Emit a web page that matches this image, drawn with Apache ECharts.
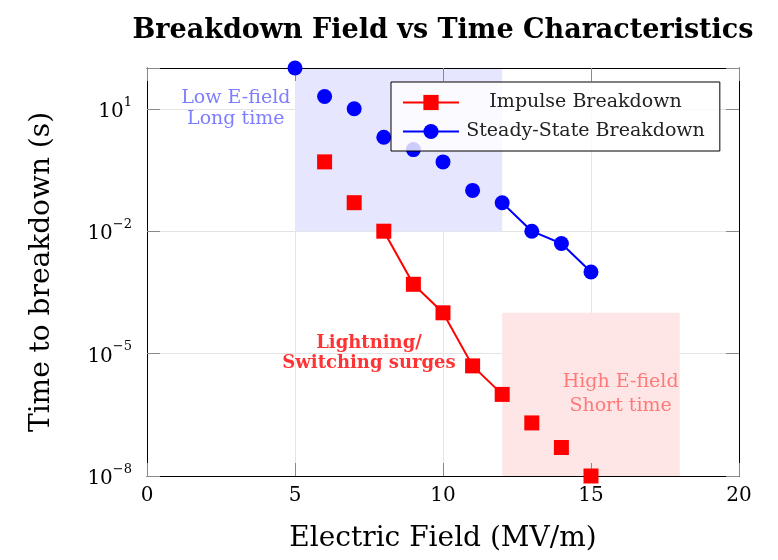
<!DOCTYPE html>
<html><head><meta charset="utf-8">
<script src="https://cdn.jsdelivr.net/npm/echarts@6/dist/echarts.min.js"></script>
<style>html,body{margin:0;padding:0;background:#fff}#c{width:778px;height:560px}</style>
</head><body><div id="c"></div>
<script>
// ---- data ----
const titleText = 'Breakdown Field vs Time Characteristics';
const xName = 'Electric Field (MV/m)';
const yName = 'Time to breakdown (s)';
const seriesNames = ['Impulse Breakdown', 'Steady-State Breakdown'];
const impulseX = [6, 7, 8, 9, 10, 11, 12, 13, 14, 15];
const impulseT = [0.5, 0.05, 0.01, 5e-4, 1e-4, 5e-6, 1e-6, 2e-7, 5e-8, 1e-8];
const steadyX = [5, 6, 7, 8, 9, 10, 11, 12, 13, 14, 15];
const steadyT = [100, 20, 10, 2, 1, 0.5, 0.1, 0.05, 0.01, 0.005, 0.001];
const xTicks = [0, 5, 10, 15, 20];
const yExtent = [1e-8, 100];
// shaded regions: [x1, y1, x2, y2]
const regionX1 = [5, 12];
const regionX2 = [12, 18];
const regionY1 = [0.01, 1e-8];
const regionY2 = [100, 1e-4];
// annotations
const noteX = [3, 7.5, 16];
const noteY = [10, 1e-5, 1e-6];
const noteText = ['Low E-field\nLong time', 'Lightning/\nSwitching surges', 'High E-field\nShort time'];

// ---- styles ----
const serif = 'DejaVu Serif';
const regionColors = ['#e6e6ff', '#ffe6e6'];
const noteStyles = [
  {color: '#5c5cff', fontWeight: 'normal', fontSize: 19, lineHeight: 21},
  {color: '#ff0000', fontWeight: 'bold', fontSize: 18, lineHeight: 20},
  {color: '#ff5e5e', fontWeight: 'normal', fontSize: 19, lineHeight: 24}
];

function logLabel(v) {
  const e = Math.round(Math.log10(v));
  return '{b|10}{s|' + (e < 0 ? '\u2212' : '') + Math.abs(e) + '}';
}

const chart = echarts.init(document.getElementById('c'));
const tickStyle = {show: true, inside: true, length: 13, lineStyle: {color: '#8a8a8a', width: 1}};
const overlayX = pos => ({
  type: 'value', min: xTicks[0], max: xTicks[xTicks.length - 1], interval: xTicks[1] - xTicks[0],
  position: pos, z: 10,
  axisLine: {show: true, onZero: false, lineStyle: {color: '#000', width: 1}},
  axisTick: tickStyle, axisLabel: {show: false}, splitLine: {show: false}
});
const overlayY = pos => ({
  type: 'log', logBase: 10, min: yExtent[0], max: yExtent[1], interval: 3,
  position: pos, z: 10,
  axisLine: {show: true, onZero: false, lineStyle: {color: '#000', width: 1}},
  axisTick: tickStyle, axisLabel: {show: false}, splitLine: {show: false}
});

const option = {
  animation: false,
  backgroundColor: '#fff',
  title: {
    text: titleText, left: 438, top: 12, textAlign: 'center',
    textStyle: {fontFamily: serif, fontWeight: 'bold', fontSize: 27, color: '#000'}
  },
  grid: {left: 147, right: 39, top: 68, bottom: 84},
  legend: {
    data: seriesNames,
    orient: 'vertical', left: 391, top: 82,
    padding: [11, 15, 10, 11], itemGap: 10,
    itemWidth: 56, itemHeight: 19,
    backgroundColor: 'rgba(255,255,255,0.8)',
    borderColor: '#000', borderWidth: 1, borderRadius: 0,
    z: 20,
    formatter: n => '{c|' + n + '}',
    textStyle: {
      fontFamily: serif, fontSize: 19, color: '#222',
      rich: {c: {width: 243, align: 'center', fontFamily: serif, fontSize: 19, color: '#222'}}
    }
  },
  xAxis: [
    {
      type: 'value', min: xTicks[0], max: xTicks[xTicks.length - 1], interval: xTicks[1] - xTicks[0],
      position: 'bottom', z: 0,
      name: xName, nameLocation: 'middle', nameGap: 49,
      nameTextStyle: {fontFamily: serif, fontSize: 28, color: '#000'},
      axisLine: {show: false}, axisTick: {show: false},
      axisLabel: {fontFamily: serif, fontSize: 20, color: '#000', margin: 10},
      splitLine: {show: true, lineStyle: {color: '#e4e4e4', width: 1}}
    },
    overlayX('bottom'),
    overlayX('top')
  ],
  yAxis: [
    {
      type: 'log', logBase: 10, min: yExtent[0], max: yExtent[1], interval: 3,
      position: 'left', z: 0,
      name: yName, nameLocation: 'middle', nameGap: 91, nameRotate: 90,
      nameTextStyle: {fontFamily: serif, fontSize: 28, color: '#000'},
      axisLine: {show: false}, axisTick: {show: false},
      axisLabel: {
        showMaxLabel: false, margin: 15,
        formatter: logLabel,
        rich: {
          b: {fontFamily: serif, fontSize: 20, color: '#000', lineHeight: 26, verticalAlign: 'bottom'},
          s: {fontFamily: serif, fontSize: 13, color: '#000', lineHeight: 20, verticalAlign: 'top'}
        }
      },
      splitLine: {show: true, lineStyle: {color: '#e4e4e4', width: 1}}
    },
    overlayY('left'),
    overlayY('right')
  ],
  series: [
    {
      name: seriesNames[0], type: 'line', z: 2, xAxisIndex: 0, yAxisIndex: 0,
      data: impulseX.map((x, i) => [x, impulseT[i]]),
      symbol: 'rect', symbolSize: 15, showSymbol: false,
      lineStyle: {color: '#ff0000', width: 2}, itemStyle: {color: '#ff0000', opacity: 1}
    },
    {
      name: seriesNames[1], type: 'line', z: 2, xAxisIndex: 0, yAxisIndex: 0,
      data: steadyX.map((x, i) => [x, steadyT[i]]),
      symbol: 'circle', symbolSize: 15, showSymbol: false,
      lineStyle: {color: '#0000ff', width: 2}, itemStyle: {color: '#0000ff', opacity: 1}
    },
    {
      name: 'regions', type: 'custom', z: 3, silent: true, xAxisIndex: 0, yAxisIndex: 0,
      encode: {x: [0, 2], y: [1, 3]},
      data: regionX1.map((x, i) => [x, regionY1[i], regionX2[i], regionY2[i]]),
      renderItem: (params, api) => {
        const p1 = api.coord([api.value(0), api.value(1)]);
        const p2 = api.coord([api.value(2), api.value(3)]);
        return {
          type: 'rect',
          shape: {x: p1[0], y: p2[1], width: p2[0] - p1[0], height: p1[1] - p2[1]},
          style: {fill: regionColors[params.dataIndex]}
        };
      }
    },
    {
      name: 'impulseMarkers', type: 'scatter', z: 11, clip: false, xAxisIndex: 0, yAxisIndex: 0,
      data: impulseX.map((x, i) => [x, impulseT[i]]),
      symbol: 'rect', symbolSize: 15, itemStyle: {color: '#ff0000', opacity: 1}
    },
    {
      name: 'steadyMarkers', type: 'scatter', z: 11, clip: false, xAxisIndex: 0, yAxisIndex: 0,
      data: steadyX.map((x, i) => [x, steadyT[i]]),
      symbol: 'circle', symbolSize: 15, itemStyle: {color: '#0000ff', opacity: 1}
    },
    {
      name: 'notes', type: 'scatter', z: 12, clip: false, silent: true, xAxisIndex: 0, yAxisIndex: 0,
      symbol: 'circle', symbolSize: 1, itemStyle: {color: 'rgba(0,0,0,0)'},
      data: noteX.map((x, i) => ({
        value: [x, noteY[i]],
        label: Object.assign({show: true, position: 'inside', formatter: noteText[i], fontFamily: serif, align: 'center'}, noteStyles[i])
      }))
    }
  ]
};
chart.setOption(option);
</script>
</body></html>
